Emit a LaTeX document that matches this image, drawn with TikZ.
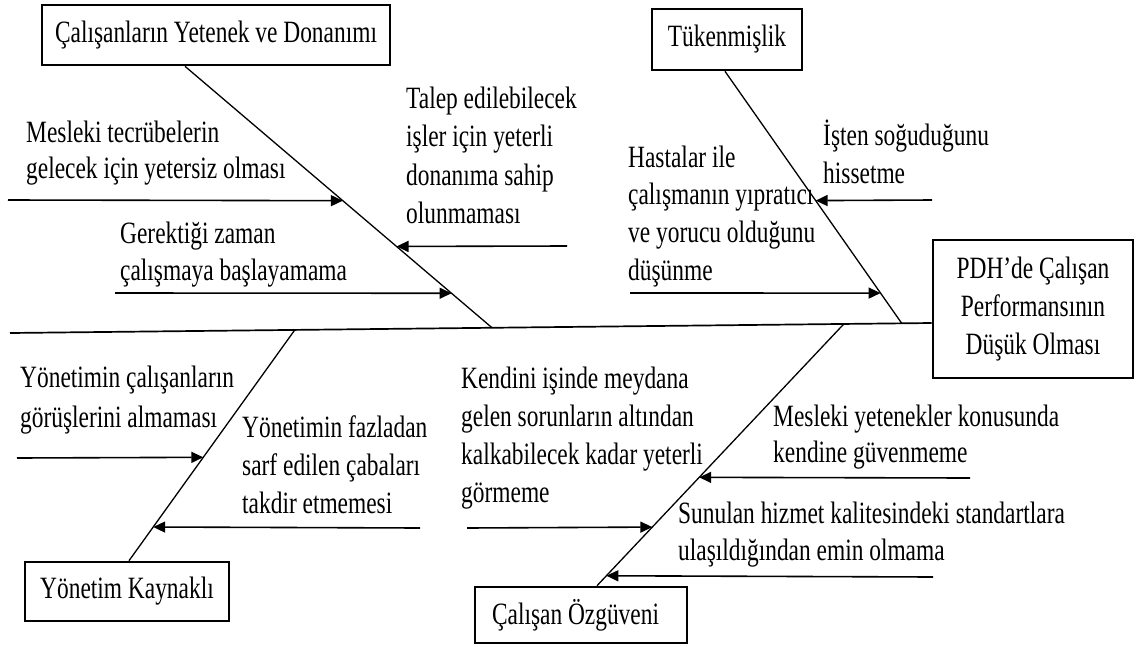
\documentclass[tikz,border=0pt]{standalone}
\usepackage{fontspec}
\setmainfont[FakeStretch=0.755]{Liberation Serif}
\usetikzlibrary{arrows.meta,calc}
% stacked lines with a fixed baseline distance; the baseline is the first line's
\newcommand\lns[2]{\vtop{\baselineskip=#1pt\relax#2}}
\begin{document}
\begin{tikzpicture}[x=1pt,y=-1pt,
  every node/.style={font=\fontsize{31}{38}\selectfont},
  catbox/.style={draw,line width=2.6pt,inner sep=0pt,align=center},
  causetext/.style={anchor=base west,inner sep=0pt},
  bone/.style={line width=1.3pt},
  spine/.style={line width=1.7pt},
  cause/.style={line width=1.6pt,-{Triangle[length=12pt,width=11pt]}}]
\fill[white] (0,0) rectangle (1136,646);
\useasboundingbox (0,0) rectangle (1136,646);

% category boxes and the effect box
\node[catbox,minimum width=348pt,minimum height=60pt] (cat1) at (216,35) {Çalışanların Yetenek ve Donanımı};
\node[catbox,minimum width=150pt,minimum height=61pt] (cat2) at (727,39.5) {Tükenmişlik};
\node[catbox,minimum width=204pt,minimum height=59pt] (cat3) at (127,591.5) {Yönetim Kaynaklı};
\node[catbox,minimum width=212pt,minimum height=56pt] (cat4) at (581,615) {\hbox to 178pt{Çalışan Özgüveni\hfil}};
\node[catbox,minimum width=200pt,minimum height=138pt] (effect) at (1033,309) {PDH’de Çalışan\\Performansının\\Düşük Olması};

% spine
\coordinate (hy) at (0,323);
\coordinate (tail) at (10,333);
\coordinate (head) at (effect.west |- hy);
\draw[spine] (tail) -- (head);

% junctions of the bones on the spine
\coordinate (j1) at ($(tail)!0.523!(head)$);
\coordinate (j2) at ($(tail)!0.9675!(head)$);
\coordinate (j3) at ($(tail)!0.309!(head)$);
\coordinate (j4) at ($(tail)!0.9047!(head)$);

% bone ends at the category boxes
\coordinate (b1) at ([xshift=-31pt]cat1.south);
\coordinate (b2) at ([xshift=-2pt]cat2.south);
\coordinate (b3) at ([xshift=2pt]cat3.north);
\coordinate (b4) at ([xshift=16pt]cat4.north);

\draw[bone] (b1) -- (j1);
\draw[bone] (b2) -- (j2);
\draw[bone] (j3) -- (b3);
\draw[bone] (j4) -- (b4);

% free ends of the cause arrows
\coordinate (s1) at (8,200);
\coordinate (s2) at (567,246);
\coordinate (s3) at (115,293);
\coordinate (s4) at (630,293);
\coordinate (s5) at (932,200);
\coordinate (s6) at (17,458);
\coordinate (s7) at (420,528);
\coordinate (s8) at (467,528);
\coordinate (s9) at (970,478);
\coordinate (s10) at (933,577);

\draw[cause] (s1) -- ($(b1)!0.514!(j1)$);
\draw[cause] (s2) -- ($(b1)!0.689!(j1)$);
\draw[cause] (s3) -- ($(b1)!0.868!(j1)$);
\draw[cause] (s4) -- ($(b2)!0.880!(j2)$);
\draw[cause] (s5) -- ($(b2)!0.513!(j2)$);
\draw[cause] (s6) -- ($(j3)!0.552!(b3)$);
\draw[cause] (s7) -- ($(j3)!0.854!(b3)$);
\draw[cause] (s8) -- ($(j4)!0.776!(b4)$);
\draw[cause] (s9) -- ($(j4)!0.586!(b4)$);
\draw[cause] (s10) -- ($(j4)!0.962!(b4)$);

% cause texts
\node[causetext] (c1) at (26,142) {\lns{36}{\hbox{Mesleki tecrübelerin}\hbox{gelecek için yetersiz olması}}};
\node[causetext] (c2) at (406,108) {\lns{38.5}{\hbox{Talep edilebilecek}\hbox{işler için yeterli}\hbox{donanıma sahip}\hbox{olunmaması}}};
\node[causetext] (c3) at (120,243) {\lns{37}{\hbox{Gerektiği zaman}\hbox{çalışmaya başlayamama}}};
\node[causetext] (c4) at (628,167) {\lns{37.7}{\hbox{Hastalar ile}\hbox{çalışmanın yıpratıcı}\hbox{ve yorucu olduğunu}\hbox{düşünme}}};
\node[causetext] (c5) at (823,145) {\lns{38}{\hbox{İşten soğuduğunu}\hbox{hissetme}}};
\node[causetext] (c6) at (20,387) {\lns{40}{\hbox{Yönetimin çalışanların}\hbox{görüşlerini almaması}}};
\node[causetext] (c7) at (242,437) {\lns{38}{\hbox{Yönetimin fazladan}\hbox{sarf edilen çabaları}\hbox{takdir etmemesi}}};
\node[causetext] (c8) at (461,388) {\lns{38}{\hbox{Kendini işinde meydana}\hbox{gelen sorunların altından}\hbox{kalkabilecek kadar yeterli}\hbox{görmeme}}};
\node[causetext] (c9) at (773,426) {\lns{36}{\hbox{Mesleki yetenekler konusunda}\hbox{kendine güvenmeme}}};
\node[causetext] (c10) at (678,523) {\lns{37}{\hbox{Sunulan hizmet kalitesindeki standartlara}\hbox{ulaşıldığından emin olmama}}};
\end{tikzpicture}
\end{document}
